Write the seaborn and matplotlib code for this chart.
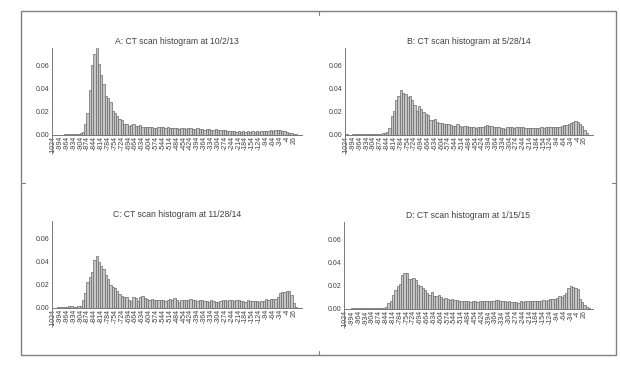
import matplotlib
matplotlib.use("Agg")
import matplotlib.pyplot as plt
from matplotlib.patches import Rectangle
from matplotlib.lines import Line2D
import seaborn as sns

# bin starts in HU, 10 HU wide
bins = list(range(-1024, 56, 10))
tick_bins = bins[::3]

titles = ["A: CT scan histogram at 10/2/13",
          "B: CT scan histogram at 5/28/14",
          "C: CT scan histogram at 11/28/14",
          "D: CT scan histogram at 1/15/15"]

hist_a = [0.0003, 0.0002, 0.0002, 0.0003, 0.0003, 0.0004, 0.0004, 0.0005, 0.0005, 0.0006, 0.0007, 0.0008, 0.0012,
          0.0025, 0.0095, 0.019, 0.039, 0.060, 0.070, 0.077, 0.061, 0.052, 0.044, 0.034, 0.032, 0.028, 0.021,
          0.019, 0.016, 0.014, 0.0125, 0.0095,
          0.009, 0.008, 0.0085, 0.009, 0.008, 0.0075, 0.0085, 0.007, 0.0065,
          0.007, 0.0068, 0.0065, 0.006, 0.0055, 0.0072, 0.007, 0.0065, 0.006, 0.0068,
          0.0062, 0.0058, 0.0055, 0.006, 0.0052, 0.0055, 0.0058, 0.005, 0.0055, 0.006,
          0.0052, 0.005, 0.0055, 0.0048, 0.005, 0.0045, 0.0052, 0.0048, 0.0042, 0.0045,
          0.0048, 0.004, 0.0042, 0.0038, 0.004, 0.0035, 0.0032, 0.0035, 0.003, 0.0028,
          0.0032, 0.0028, 0.003, 0.0025, 0.003, 0.0028, 0.0032, 0.0025, 0.003, 0.0028,
          0.0032, 0.003, 0.0035, 0.0033, 0.0038, 0.0035, 0.004, 0.0038, 0.0042, 0.0035,
          0.0032, 0.0025, 0.002, 0.0015, 0.001, 0.0005, 0.0002]

hist_b = [0.0004, 0.0003, 0.0003, 0.0004, 0.0004, 0.0005, 0.0005, 0.0006, 0.0006, 0.0007, 0.0007, 0.0008, 0.0008,
          0.0009, 0.001, 0.001, 0.0012, 0.0015, 0.0025,
          0.006, 0.016, 0.021, 0.030, 0.034, 0.039, 0.036, 0.035, 0.033, 0.034, 0.030, 0.026, 0.021, 0.025,
          0.022, 0.020, 0.018, 0.017, 0.013, 0.013, 0.014, 0.011, 0.010, 0.010, 0.009, 0.0095, 0.009, 0.0085,
          0.008, 0.008, 0.009, 0.0075,
          0.007, 0.0078, 0.0075, 0.0068, 0.007, 0.0065, 0.006, 0.0068, 0.0065, 0.0072,
          0.0078, 0.0085, 0.008, 0.0075, 0.0072, 0.007, 0.0065, 0.0062, 0.0058, 0.005,
          0.0072, 0.007, 0.0065, 0.006, 0.0068, 0.007, 0.0065, 0.0068, 0.006, 0.0055,
          0.006, 0.0062, 0.0058, 0.006, 0.0062, 0.0065, 0.006, 0.0065, 0.007, 0.0068,
          0.0065, 0.0068, 0.007, 0.0072, 0.0078, 0.0085, 0.0082, 0.009, 0.0105, 0.011,
          0.012, 0.0115, 0.0095, 0.0075, 0.0045, 0.0015, 0.0003]

hist_c = [0.0003, 0.0003, 0.0004, 0.0005, 0.0006, 0.0008, 0.001, 0.0012, 0.0015, 0.001, 0.0008, 0.0015, 0.002,
          0.0065, 0.013, 0.022, 0.027, 0.031, 0.041, 0.045, 0.040, 0.036, 0.034, 0.028, 0.025, 0.020, 0.018,
          0.017, 0.015, 0.012, 0.010, 0.0095,
          0.009, 0.007, 0.006, 0.009, 0.0085, 0.006, 0.009, 0.010, 0.0085,
          0.008, 0.007, 0.0075, 0.007, 0.0065, 0.007, 0.007, 0.0068, 0.006, 0.0072,
          0.0078, 0.0065, 0.0085, 0.007, 0.0055, 0.0068, 0.0065, 0.007, 0.0072, 0.0075,
          0.007, 0.0068, 0.006, 0.0068, 0.0065, 0.006, 0.0062, 0.0055, 0.0065, 0.0058,
          0.005, 0.0055, 0.006, 0.0065, 0.007, 0.0062, 0.0068, 0.0065, 0.006, 0.0065,
          0.0068, 0.0062, 0.006, 0.0055, 0.0065, 0.0062, 0.006, 0.0058, 0.006, 0.0055,
          0.006, 0.0058, 0.0075, 0.0072, 0.0078, 0.0075, 0.008, 0.0095, 0.013, 0.0135,
          0.014, 0.0145, 0.015, 0.011, 0.004, 0.001, 0.0002]

hist_d = [0.0003, 0.0003, 0.0003, 0.0004, 0.0004, 0.0004, 0.0005, 0.0005, 0.0005, 0.0006, 0.0006, 0.0006, 0.0007,
          0.0007, 0.0008, 0.0008, 0.0009, 0.001,
          0.0015, 0.005, 0.007, 0.012, 0.016, 0.020, 0.022, 0.029, 0.031, 0.031, 0.026, 0.026, 0.027, 0.025,
          0.021, 0.020, 0.018, 0.016, 0.014, 0.012, 0.015, 0.011, 0.011, 0.012, 0.010, 0.009, 0.0095, 0.0085,
          0.008, 0.0085, 0.0078, 0.0075, 0.007,
          0.0072, 0.0068, 0.0065, 0.007, 0.006, 0.0068, 0.0065, 0.006, 0.0068, 0.007,
          0.0065, 0.0072, 0.0068, 0.007, 0.0065, 0.008, 0.0075, 0.007, 0.0068, 0.0065,
          0.006, 0.0065, 0.0062, 0.0058, 0.006, 0.0055, 0.0065, 0.0062, 0.0068, 0.0065,
          0.0068, 0.007, 0.0065, 0.0072, 0.0068, 0.0072, 0.0075, 0.0072, 0.008, 0.0085,
          0.0085, 0.009, 0.0095, 0.011, 0.010, 0.012, 0.014, 0.018, 0.020, 0.019,
          0.018, 0.017, 0.0085, 0.006, 0.003, 0.0015, 0.0005]

sns.set_style("white")
plt.rcParams['font.family'] = ['Liberation Sans', 'DejaVu Sans']

txt = '#404040'
axis_col = '#7a7a7a'

fig = plt.figure(figsize=(6.2, 3.65), dpi=100)

# panel boxes in figure fractions
boxes = [(0.084, 0.584, 0.403, 0.285),
         (0.557, 0.584, 0.399, 0.285),
         (0.084, 0.110, 0.403, 0.285),
         (0.555, 0.107, 0.401, 0.285)]

for box, title, vals in zip(boxes, titles, [hist_a, hist_b, hist_c, hist_d]):
    ax = fig.add_axes(box)
    sns.barplot(x=bins, y=vals, ax=ax, color='#c6c6c6', edgecolor='#6a6a6a',
                linewidth=0.5, width=1.0, errorbar=None, saturation=1)
    ax.set_xlim(-0.5, 108.6)
    ax.set_ylim(-0.0147, 0.0753)
    ax.set_xlabel('')
    ax.set_ylabel('')

    for s in ['top', 'right']:
        ax.spines[s].set_visible(False)
    ax.spines['bottom'].set_position(('data', 0))
    for s in ['bottom', 'left']:
        ax.spines[s].set_color(axis_col)
        ax.spines[s].set_linewidth(0.7)

    ax.set_xticks(range(0, len(bins), 3))
    ax.set_xticklabels([str(b) for b in tick_bins], rotation=90, fontsize=5, color=txt)
    ax.tick_params(axis='x', direction='in', length=2, width=0.5, pad=1, color=axis_col)

    ax.set_yticks([0, 0.02, 0.04, 0.06])
    ax.set_yticklabels(['0.00', '0.02', '0.04', '0.06'], fontsize=5, color=txt)
    ax.set_yticks([k * 0.005 for k in range(16)], minor=True)
    ax.tick_params(axis='y', which='major', direction='in', length=3, width=0.5, pad=2, color=axis_col)
    ax.tick_params(axis='y', which='minor', direction='in', length=1.5, width=0.4, color=axis_col)

    ax.set_title(title, fontsize=6.2, color=txt, pad=3)

# outer frame of the grid
x0, x1 = 21 / 620, 616 / 620
y0, y1 = 1 - 355 / 365, 1 - 11 / 365
fig.add_artist(Rectangle((x0, y0), x1 - x0, y1 - y0, transform=fig.transFigure,
                         fill=False, ec='#808080', lw=1.0))
xm, ym = (x0 + x1) / 2, (y0 + y1) / 2
for seg in [([xm, xm], [y1, y1 - 0.01]), ([xm, xm], [y0, y0 + 0.01]),
            ([x0, x0 + 0.006], [ym, ym]), ([x1, x1 - 0.006], [ym, ym])]:
    fig.add_artist(Line2D(seg[0], seg[1], transform=fig.transFigure, color='#808080', lw=0.8))

fig.savefig('out.png', dpi=100)
